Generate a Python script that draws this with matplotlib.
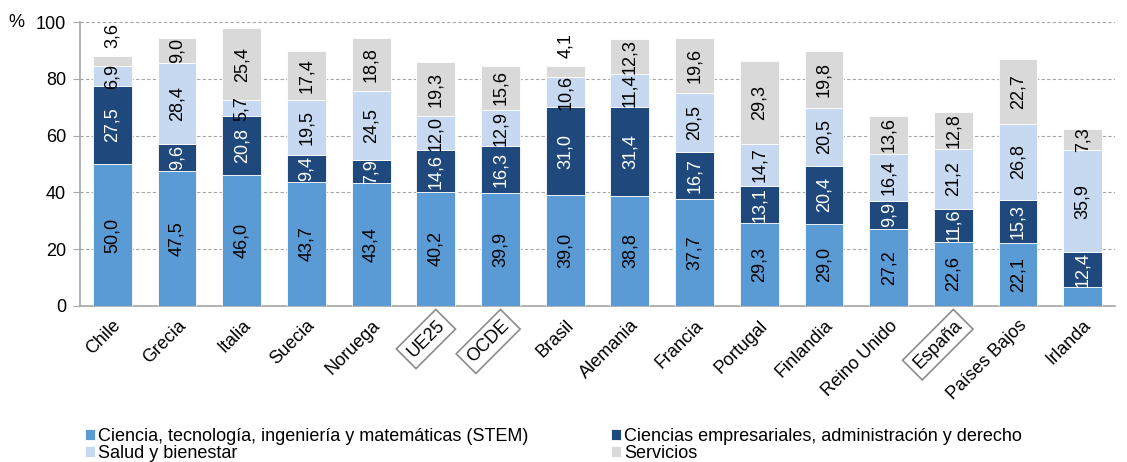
import matplotlib
matplotlib.use("Agg")
import matplotlib.pyplot as plt
import numpy as np

plt.rcParams['font.family'] = ['Liberation Sans', 'DejaVu Sans']

countries = ["Chile", "Grecia", "Italia", "Suecia", "Noruega", "UE25", "OCDE", "Brasil",
             "Alemania", "Francia", "Portugal", "Finlandia", "Reino Unido", "España",
             "Países Bajos", "Irlanda"]
boxed = ["UE25", "OCDE", "España"]

stem = [50.0, 47.5, 46.0, 43.7, 43.4, 40.2, 39.9, 39.0, 38.8, 37.7, 29.3, 29.0, 27.2, 22.6, 22.1, 6.6]
empresa = [27.5, 9.6, 20.8, 9.4, 7.9, 14.6, 16.3, 31.0, 31.4, 16.7, 13.1, 20.4, 9.9, 11.6, 15.3, 12.4]
salud = [6.9, 28.4, 5.7, 19.5, 24.5, 12.0, 12.9, 10.6, 11.4, 20.5, 14.7, 20.5, 16.4, 21.2, 26.8, 35.9]
servicios = [3.6, 9.0, 25.4, 17.4, 18.8, 19.3, 15.6, 4.1, 12.3, 19.6, 29.3, 19.8, 13.6, 12.8, 22.7, 7.3]

series_names = ["Ciencia, tecnología, ingeniería y matemáticas (STEM)",
                "Ciencias empresariales, administración y derecho",
                "Salud y bienestar", "Servicios"]
colors = ["#5B9BD5", "#1F497D", "#C6D9F1", "#D9D9D9"]
text_colors = ["black", "white", "black", "black"]

fig = plt.figure(figsize=(11.27, 4.62), dpi=100)
ax = fig.add_axes([0.0710, 0.3377, 0.9184, 0.6143])

x = np.arange(len(countries))
data = [stem, empresa, salud, servicios]
bottom = np.zeros(len(countries))
handles = []
for si, vals in enumerate(data):
    vals = np.array(vals)
    h = ax.bar(x, vals, 0.6, bottom=bottom, color=colors[si], edgecolor='white',
               linewidth=0.6, zorder=3, label=series_names[si])
    handles.append(h)
    for i, v in enumerate(vals):
        if si == 0 and countries[i] == "Irlanda":
            continue
        lbl = f"{v:.1f}".replace(".", ",")
        if v < 5:
            ypos = bottom[i] + v + 7.2
        else:
            ypos = bottom[i] + v / 2
        ax.text(x[i], ypos, lbl, rotation=90, ha='center', va='center',
                fontsize=13, color=text_colors[si], zorder=4)
    bottom = bottom + vals

ax.set_xlim(-0.5, 15.5)
ax.set_ylim(0, 100)
ax.set_yticks([0, 20, 40, 60, 80, 100])
ax.tick_params(axis='y', labelsize=13, length=5, color='#A6A6A6', direction='out', pad=5)
ax.tick_params(axis='x', length=0, pad=8)
for yv in [20, 40, 60, 80, 100]:
    ax.axhline(yv, color='#A6A6A6', linestyle=(0, (3, 2)), linewidth=0.8, zorder=1)
for s in ['top', 'right']:
    ax.spines[s].set_visible(False)
for s in ['left', 'bottom']:
    ax.spines[s].set_color('#A6A6A6')
    ax.spines[s].set_linewidth(1.2)

ax.set_xticks(x)
ax.set_xticklabels(countries, rotation=45, ha='right', va='top', rotation_mode='anchor',
                   fontsize=13)
for lab in ax.get_xticklabels():
    if lab.get_text() in boxed:
        lab.set_bbox(dict(boxstyle='square,pad=0.3', facecolor='white',
                          edgecolor='#8C8C8C', linewidth=1.2))

fig.text(0.007, 0.952, "%", fontsize=13, ha='left', va='center')

order = [0, 2, 1, 3]
fig.legend(handles=[handles[k] for k in order],
           labels=[series_names[k] for k in order], loc='lower left',
           bbox_to_anchor=(0.074, -0.004),
           ncol=2, frameon=False, fontsize=13, handlelength=0.55, handleheight=0.55,
           handletextpad=0.15, columnspacing=4.6, labelspacing=0.0, borderaxespad=0,
           borderpad=0.1)

fig.savefig("out.png", dpi=100)
